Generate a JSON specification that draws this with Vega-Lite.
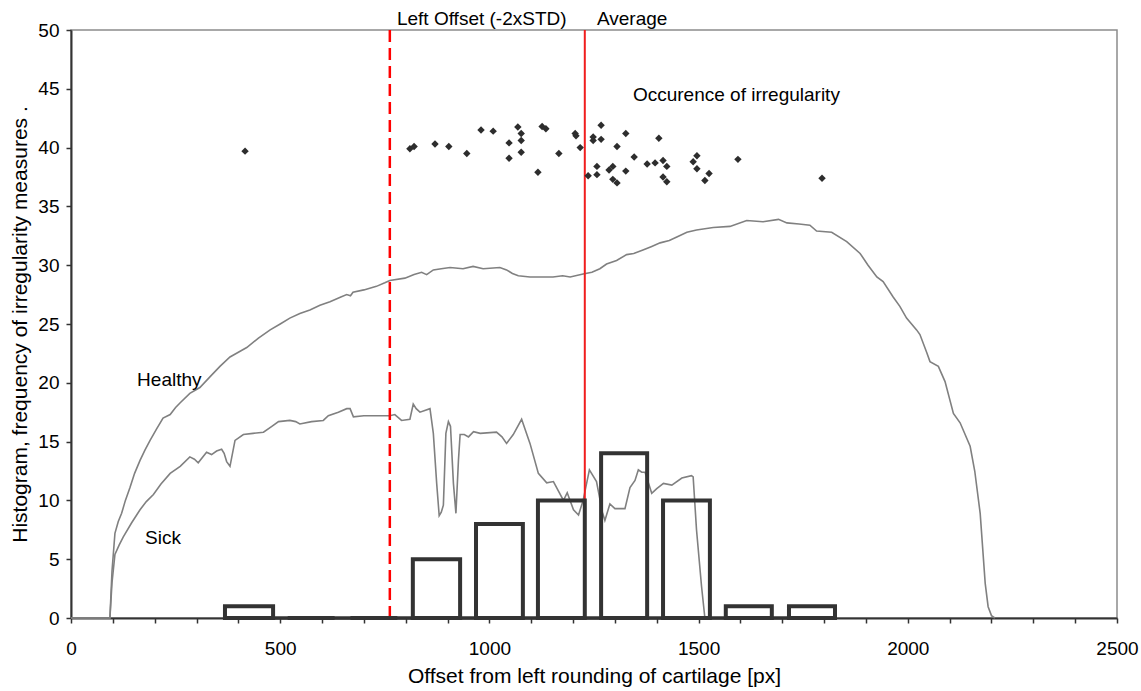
{
  "$schema": "https://vega.github.io/schema/vega-lite/v6.json",
  "width": 1046,
  "height": 588,
  "autosize": {"type": "none"},
  "padding": {"left": 71, "top": 30, "right": 24, "bottom": 73},
  "background": "white",
  "config": {
    "font": "Liberation Sans",
    "view": {"stroke": "#8c8c8c", "strokeWidth": 1.5},
    "axis": {
      "grid": false,
      "domainColor": "#333333",
      "domainWidth": 2,
      "tickColor": "#333333",
      "tickWidth": 1.5,
      "tickSize": 5,
      "labelColor": "#000000",
      "labelFontSize": 19,
      "labelFont": "Liberation Sans",
      "titleColor": "#000000",
      "titleFontSize": 21,
      "titleFontWeight": "normal",
      "titleFont": "Liberation Sans"
    }
  },
  "datasets": {
    "curves": [
      {"series": "Healthy", "x": 0, "y": 0},
      {"series": "Healthy", "x": 93, "y": 0},
      {"series": "Healthy", "x": 98, "y": 4},
      {"series": "Healthy", "x": 105, "y": 7.2},
      {"series": "Healthy", "x": 113, "y": 8.2},
      {"series": "Healthy", "x": 121, "y": 8.9},
      {"series": "Healthy", "x": 130, "y": 10.0},
      {"series": "Healthy", "x": 141, "y": 11.1},
      {"series": "Healthy", "x": 152, "y": 12.3},
      {"series": "Healthy", "x": 165, "y": 13.4},
      {"series": "Healthy", "x": 177, "y": 14.3},
      {"series": "Healthy", "x": 189, "y": 15.1},
      {"series": "Healthy", "x": 205, "y": 16.1},
      {"series": "Healthy", "x": 220, "y": 17.0},
      {"series": "Healthy", "x": 237, "y": 17.3},
      {"series": "Healthy", "x": 250, "y": 17.9},
      {"series": "Healthy", "x": 261, "y": 18.3},
      {"series": "Healthy", "x": 284, "y": 19.1},
      {"series": "Healthy", "x": 308, "y": 19.6},
      {"series": "Healthy", "x": 332, "y": 20.5},
      {"series": "Healthy", "x": 356, "y": 21.4},
      {"series": "Healthy", "x": 380, "y": 22.2},
      {"series": "Healthy", "x": 400, "y": 22.6},
      {"series": "Healthy", "x": 420, "y": 23.0},
      {"series": "Healthy", "x": 448, "y": 23.8},
      {"series": "Healthy", "x": 476, "y": 24.5},
      {"series": "Healthy", "x": 500, "y": 25.0},
      {"series": "Healthy", "x": 523, "y": 25.5},
      {"series": "Healthy", "x": 547, "y": 25.9},
      {"series": "Healthy", "x": 571, "y": 26.2},
      {"series": "Healthy", "x": 595, "y": 26.6},
      {"series": "Healthy", "x": 619, "y": 26.9},
      {"series": "Healthy", "x": 645, "y": 27.3},
      {"series": "Healthy", "x": 659, "y": 27.5},
      {"series": "Healthy", "x": 668, "y": 27.4},
      {"series": "Healthy", "x": 674, "y": 27.7},
      {"series": "Healthy", "x": 700, "y": 27.9},
      {"series": "Healthy", "x": 730, "y": 28.2},
      {"series": "Healthy", "x": 750, "y": 28.5},
      {"series": "Healthy", "x": 762, "y": 28.7},
      {"series": "Healthy", "x": 798, "y": 28.9},
      {"series": "Healthy", "x": 820, "y": 29.2},
      {"series": "Healthy", "x": 838, "y": 29.4},
      {"series": "Healthy", "x": 850, "y": 29.2},
      {"series": "Healthy", "x": 866, "y": 29.6},
      {"series": "Healthy", "x": 885, "y": 29.7},
      {"series": "Healthy", "x": 906, "y": 29.8},
      {"series": "Healthy", "x": 937, "y": 29.7},
      {"series": "Healthy", "x": 961, "y": 29.9},
      {"series": "Healthy", "x": 985, "y": 29.7},
      {"series": "Healthy", "x": 1025, "y": 29.8},
      {"series": "Healthy", "x": 1041, "y": 29.6},
      {"series": "Healthy", "x": 1055, "y": 29.3},
      {"series": "Healthy", "x": 1069, "y": 29.1},
      {"series": "Healthy", "x": 1097, "y": 29.0},
      {"series": "Healthy", "x": 1152, "y": 29.0},
      {"series": "Healthy", "x": 1175, "y": 29.1},
      {"series": "Healthy", "x": 1193, "y": 29.0},
      {"series": "Healthy", "x": 1224, "y": 29.25},
      {"series": "Healthy", "x": 1245, "y": 29.4},
      {"series": "Healthy", "x": 1264, "y": 29.7},
      {"series": "Healthy", "x": 1280, "y": 30.1},
      {"series": "Healthy", "x": 1304, "y": 30.4},
      {"series": "Healthy", "x": 1328, "y": 30.9},
      {"series": "Healthy", "x": 1345, "y": 31.0},
      {"series": "Healthy", "x": 1367, "y": 31.3},
      {"series": "Healthy", "x": 1388, "y": 31.6},
      {"series": "Healthy", "x": 1408, "y": 31.9},
      {"series": "Healthy", "x": 1430, "y": 32.1},
      {"series": "Healthy", "x": 1448, "y": 32.4},
      {"series": "Healthy", "x": 1472, "y": 32.8},
      {"series": "Healthy", "x": 1495, "y": 33.0},
      {"series": "Healthy", "x": 1535, "y": 33.2},
      {"series": "Healthy", "x": 1575, "y": 33.3},
      {"series": "Healthy", "x": 1615, "y": 33.8},
      {"series": "Healthy", "x": 1654, "y": 33.7},
      {"series": "Healthy", "x": 1691, "y": 33.9},
      {"series": "Healthy", "x": 1711, "y": 33.6},
      {"series": "Healthy", "x": 1740, "y": 33.5},
      {"series": "Healthy", "x": 1766, "y": 33.4},
      {"series": "Healthy", "x": 1782, "y": 32.9},
      {"series": "Healthy", "x": 1818, "y": 32.8},
      {"series": "Healthy", "x": 1854, "y": 32.0},
      {"series": "Healthy", "x": 1886, "y": 31.0},
      {"series": "Healthy", "x": 1905, "y": 30.0},
      {"series": "Healthy", "x": 1926, "y": 29.0},
      {"series": "Healthy", "x": 1941, "y": 28.6},
      {"series": "Healthy", "x": 1965, "y": 27.3},
      {"series": "Healthy", "x": 1981, "y": 26.5},
      {"series": "Healthy", "x": 1997, "y": 25.5},
      {"series": "Healthy", "x": 2021, "y": 24.5},
      {"series": "Healthy", "x": 2029, "y": 24.1},
      {"series": "Healthy", "x": 2045, "y": 22.6},
      {"series": "Healthy", "x": 2053, "y": 21.8},
      {"series": "Healthy", "x": 2073, "y": 21.4},
      {"series": "Healthy", "x": 2089, "y": 20.1},
      {"series": "Healthy", "x": 2109, "y": 17.4},
      {"series": "Healthy", "x": 2125, "y": 16.6},
      {"series": "Healthy", "x": 2149, "y": 14.6},
      {"series": "Healthy", "x": 2160, "y": 12.5},
      {"series": "Healthy", "x": 2173, "y": 8.9},
      {"series": "Healthy", "x": 2185, "y": 2.95},
      {"series": "Healthy", "x": 2192, "y": 0.96},
      {"series": "Healthy", "x": 2200, "y": 0.2},
      {"series": "Healthy", "x": 2208, "y": 0},
      {"series": "Sick", "x": 0, "y": 0},
      {"series": "Sick", "x": 93, "y": 0},
      {"series": "Sick", "x": 98, "y": 3},
      {"series": "Sick", "x": 105, "y": 5.4},
      {"series": "Sick", "x": 115, "y": 6.2},
      {"series": "Sick", "x": 125, "y": 6.9},
      {"series": "Sick", "x": 145, "y": 8.1},
      {"series": "Sick", "x": 165, "y": 9.2},
      {"series": "Sick", "x": 180, "y": 9.9},
      {"series": "Sick", "x": 197, "y": 10.5},
      {"series": "Sick", "x": 215, "y": 11.4},
      {"series": "Sick", "x": 237, "y": 12.3},
      {"series": "Sick", "x": 261, "y": 12.9},
      {"series": "Sick", "x": 284, "y": 13.7},
      {"series": "Sick", "x": 295, "y": 13.5},
      {"series": "Sick", "x": 304, "y": 13.2},
      {"series": "Sick", "x": 324, "y": 14.1},
      {"series": "Sick", "x": 336, "y": 13.9},
      {"series": "Sick", "x": 348, "y": 14.2},
      {"series": "Sick", "x": 360, "y": 14.35},
      {"series": "Sick", "x": 366, "y": 14.0},
      {"series": "Sick", "x": 372, "y": 13.3},
      {"series": "Sick", "x": 380, "y": 12.9},
      {"series": "Sick", "x": 386, "y": 14.0},
      {"series": "Sick", "x": 392, "y": 15.1},
      {"series": "Sick", "x": 412, "y": 15.6},
      {"series": "Sick", "x": 435, "y": 15.7},
      {"series": "Sick", "x": 460, "y": 15.8},
      {"series": "Sick", "x": 480, "y": 16.3},
      {"series": "Sick", "x": 496, "y": 16.7},
      {"series": "Sick", "x": 523, "y": 16.8},
      {"series": "Sick", "x": 537, "y": 16.7},
      {"series": "Sick", "x": 547, "y": 16.5},
      {"series": "Sick", "x": 575, "y": 16.7},
      {"series": "Sick", "x": 603, "y": 16.8},
      {"series": "Sick", "x": 615, "y": 17.2},
      {"series": "Sick", "x": 639, "y": 17.5},
      {"series": "Sick", "x": 659, "y": 17.8},
      {"series": "Sick", "x": 667, "y": 17.8},
      {"series": "Sick", "x": 675, "y": 17.1},
      {"series": "Sick", "x": 700, "y": 17.2},
      {"series": "Sick", "x": 723, "y": 17.2},
      {"series": "Sick", "x": 762, "y": 17.2},
      {"series": "Sick", "x": 774, "y": 17.3},
      {"series": "Sick", "x": 790, "y": 16.8},
      {"series": "Sick", "x": 810, "y": 16.9},
      {"series": "Sick", "x": 818, "y": 18.2},
      {"series": "Sick", "x": 825, "y": 17.8},
      {"series": "Sick", "x": 834, "y": 17.5},
      {"series": "Sick", "x": 858, "y": 17.8},
      {"series": "Sick", "x": 866, "y": 15.7},
      {"series": "Sick", "x": 874, "y": 11.45},
      {"series": "Sick", "x": 880, "y": 8.7},
      {"series": "Sick", "x": 885, "y": 9.0},
      {"series": "Sick", "x": 890, "y": 9.6},
      {"series": "Sick", "x": 896, "y": 15.7},
      {"series": "Sick", "x": 902, "y": 16.7},
      {"series": "Sick", "x": 907, "y": 16.3},
      {"series": "Sick", "x": 914, "y": 11.45},
      {"series": "Sick", "x": 920, "y": 8.9},
      {"series": "Sick", "x": 926, "y": 13.4},
      {"series": "Sick", "x": 930, "y": 15.6},
      {"series": "Sick", "x": 940, "y": 15.6},
      {"series": "Sick", "x": 950, "y": 15.4},
      {"series": "Sick", "x": 962, "y": 15.85},
      {"series": "Sick", "x": 978, "y": 15.7},
      {"series": "Sick", "x": 1017, "y": 15.8},
      {"series": "Sick", "x": 1030, "y": 15.4},
      {"series": "Sick", "x": 1041, "y": 14.85},
      {"series": "Sick", "x": 1057, "y": 15.6},
      {"series": "Sick", "x": 1077, "y": 16.9},
      {"series": "Sick", "x": 1097, "y": 14.85},
      {"series": "Sick", "x": 1117, "y": 12.3},
      {"series": "Sick", "x": 1137, "y": 11.5},
      {"series": "Sick", "x": 1153, "y": 11.6},
      {"series": "Sick", "x": 1177, "y": 10.0},
      {"series": "Sick", "x": 1186, "y": 10.65},
      {"series": "Sick", "x": 1201, "y": 9.2},
      {"series": "Sick", "x": 1213, "y": 8.76},
      {"series": "Sick", "x": 1224, "y": 10.0},
      {"series": "Sick", "x": 1239, "y": 12.6},
      {"series": "Sick", "x": 1256, "y": 11.6},
      {"series": "Sick", "x": 1270, "y": 9.0},
      {"series": "Sick", "x": 1276, "y": 8.3},
      {"series": "Sick", "x": 1288, "y": 9.7},
      {"series": "Sick", "x": 1300, "y": 9.3},
      {"series": "Sick", "x": 1324, "y": 9.3},
      {"series": "Sick", "x": 1336, "y": 11.1},
      {"series": "Sick", "x": 1348, "y": 11.7},
      {"series": "Sick", "x": 1356, "y": 12.6},
      {"series": "Sick", "x": 1364, "y": 12.4},
      {"series": "Sick", "x": 1372, "y": 12.4},
      {"series": "Sick", "x": 1388, "y": 10.6},
      {"series": "Sick", "x": 1400, "y": 11.0},
      {"series": "Sick", "x": 1416, "y": 11.45},
      {"series": "Sick", "x": 1436, "y": 11.3},
      {"series": "Sick", "x": 1460, "y": 11.9},
      {"series": "Sick", "x": 1483, "y": 12.1},
      {"series": "Sick", "x": 1487, "y": 12.0},
      {"series": "Sick", "x": 1495, "y": 7.5},
      {"series": "Sick", "x": 1507, "y": 2.7},
      {"series": "Sick", "x": 1515, "y": 0}
    ],
    "histogram": [
      {"start": 368, "end": 483, "count": 1},
      {"start": 518, "end": 630, "count": 0},
      {"start": 668, "end": 780, "count": 0},
      {"start": 817, "end": 930, "count": 5},
      {"start": 968, "end": 1080, "count": 8},
      {"start": 1116, "end": 1228, "count": 10},
      {"start": 1267, "end": 1377, "count": 14},
      {"start": 1415, "end": 1527, "count": 10},
      {"start": 1565, "end": 1675, "count": 1},
      {"start": 1716, "end": 1826, "count": 1}
    ],
    "occurrences": [
      {"x": 416, "y": 39.7}, {"x": 810, "y": 39.9}, {"x": 820, "y": 40.1},
      {"x": 870, "y": 40.3}, {"x": 903, "y": 40.1}, {"x": 946, "y": 39.5},
      {"x": 980, "y": 41.5}, {"x": 1009, "y": 41.4}, {"x": 1047, "y": 40.4},
      {"x": 1047, "y": 39.1}, {"x": 1068, "y": 41.75}, {"x": 1076, "y": 41.2},
      {"x": 1076, "y": 40.6}, {"x": 1076, "y": 39.6}, {"x": 1116, "y": 37.9},
      {"x": 1126, "y": 41.8}, {"x": 1135, "y": 41.6}, {"x": 1166, "y": 39.5},
      {"x": 1205, "y": 41.2}, {"x": 1207, "y": 41.0}, {"x": 1217, "y": 40.0},
      {"x": 1236, "y": 37.6}, {"x": 1248, "y": 40.9}, {"x": 1248, "y": 40.6},
      {"x": 1257, "y": 38.4}, {"x": 1257, "y": 37.7}, {"x": 1267, "y": 41.9},
      {"x": 1267, "y": 40.7}, {"x": 1286, "y": 38.1}, {"x": 1295, "y": 38.4},
      {"x": 1295, "y": 37.3}, {"x": 1305, "y": 37.0}, {"x": 1305, "y": 40.1},
      {"x": 1326, "y": 41.2}, {"x": 1326, "y": 38.0}, {"x": 1346, "y": 39.2},
      {"x": 1377, "y": 38.6}, {"x": 1396, "y": 38.7}, {"x": 1405, "y": 40.8},
      {"x": 1415, "y": 38.9}, {"x": 1424, "y": 38.4}, {"x": 1415, "y": 37.5},
      {"x": 1424, "y": 37.1}, {"x": 1487, "y": 38.8}, {"x": 1496, "y": 39.3},
      {"x": 1496, "y": 38.2}, {"x": 1525, "y": 37.8}, {"x": 1515, "y": 37.2},
      {"x": 1594, "y": 39.0}, {"x": 1795, "y": 37.4}
    ],
    "markers": [
      {"name": "Left Offset (-2xSTD)", "x": 762, "dashed": true},
      {"name": "Average", "x": 1228, "dashed": false}
    ],
    "labels": [
      {"text": "Healthy", "x": 158, "y": 20.2},
      {"text": "Sick", "x": 177, "y": 6.8},
      {"text": "Occurence of irregularity", "x": 1343, "y": 44.5},
      {"text": "Left Offset (-2xSTD)", "x": 779, "y": 50.9},
      {"text": "Average", "x": 1257, "y": 50.9}
    ]
  },
  "layer": [
    {
      "data": {"name": "curves"},
      "mark": {"type": "line", "color": "#808080", "strokeWidth": 1.6},
      "encoding": {
        "x": {
          "field": "x", "type": "quantitative",
          "scale": {"domain": [0, 2500], "nice": false, "zero": false},
          "title": "Offset from left rounding of cartilage [px]",
          "axis": {
            "values": [0, 100, 200, 300, 400, 500, 600, 700, 800, 900, 1000, 1100, 1200, 1300, 1400, 1500, 1600, 1700, 1800, 1900, 2000, 2100, 2200, 2300, 2400, 2500],
            "format": "d",
            "labelExpr": "datum.value % 500 === 0 ? datum.label : ''",
            "labelFlush": false,
            "labelOverlap": false,
            "labelPadding": 16,
            "titleBaseline": "alphabetic",
            "titleY": 64
          }
        },
        "y": {
          "field": "y", "type": "quantitative",
          "scale": {"domain": [0, 50], "nice": false},
          "title": "Histogram, frequency of irregularity measures .",
          "axis": {
            "values": [0, 5, 10, 15, 20, 25, 30, 35, 40, 45, 50],
            "labelPadding": 7,
            "titleBaseline": "alphabetic",
            "titleX": -45
          }
        },
        "detail": {"field": "series"}
      }
    },
    {
      "data": {"name": "markers"},
      "transform": [{"filter": "datum.dashed"}],
      "mark": {"type": "rule", "color": "#ff0000", "strokeWidth": 2.5, "strokeDash": [12, 6]},
      "encoding": {
        "x": {"field": "x", "type": "quantitative"}
      }
    },
    {
      "data": {"name": "markers"},
      "transform": [{"filter": "!datum.dashed"}],
      "mark": {"type": "rule", "color": "#f01e1e", "strokeWidth": 2},
      "encoding": {
        "x": {"field": "x", "type": "quantitative"}
      }
    },
    {
      "data": {"name": "histogram"},
      "mark": {"type": "rule", "color": "#333333", "strokeWidth": 3.5},
      "encoding": {
        "x": {"aggregate": "min", "field": "start", "type": "quantitative"},
        "x2": {"aggregate": "max", "field": "end"},
        "y": {"datum": 0, "type": "quantitative"}
      }
    },
    {
      "data": {"name": "histogram"},
      "mark": {"type": "rect", "fill": null, "fillOpacity": 0, "stroke": "#333333", "strokeWidth": 4},
      "encoding": {
        "x": {"field": "start", "type": "quantitative"},
        "x2": {"field": "end"},
        "y": {"field": "count", "type": "quantitative"},
        "y2": {"datum": 0}
      }
    },
    {
      "data": {"name": "occurrences"},
      "mark": {"type": "point", "shape": "diamond", "filled": true, "color": "#2d2d2d", "size": 55, "opacity": 1},
      "encoding": {
        "x": {"field": "x", "type": "quantitative"},
        "y": {"field": "y", "type": "quantitative"}
      }
    },
    {
      "data": {"name": "labels"},
      "mark": {"type": "text", "align": "left", "baseline": "middle", "fontSize": 19, "font": "Liberation Sans", "color": "#000000"},
      "encoding": {
        "x": {"field": "x", "type": "quantitative"},
        "y": {"field": "y", "type": "quantitative"},
        "text": {"field": "text"}
      }
    }
  ]
}
